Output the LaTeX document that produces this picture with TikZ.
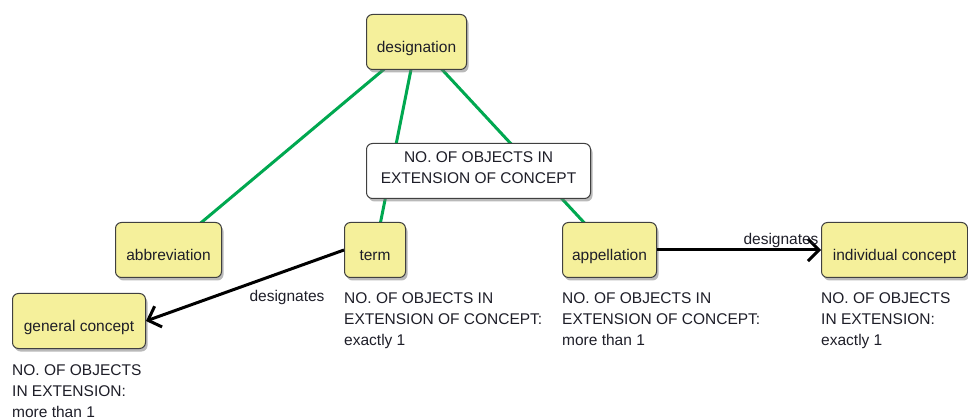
\documentclass[tikz,border=0pt]{standalone}
\usepackage{fontspec}
\setmainfont{Liberation Sans}
\usetikzlibrary{shadows,arrows.meta,backgrounds}
\definecolor{conceptfill}{RGB}{245,240,155}
\definecolor{linkgreen}{RGB}{0,168,80}
\definecolor{txt}{RGB}{30,30,40}
\tikzset{
  concept/.style={draw=black!75, line width=1pt, rounded corners=6pt, fill=conceptfill,
    inner sep=0pt, text height=38pt, text depth=17pt, anchor=north west,
    drop shadow={shadow xshift=2pt, shadow yshift=-3pt, fill=black!55}},
  linkbox/.style={draw=black!75, line width=1pt, rounded corners=6pt, fill=white,
    inner sep=0pt, anchor=north west, align=center,
    drop shadow={shadow xshift=2pt, shadow yshift=-3pt, fill=black!55}},
  greenline/.style={draw=linkgreen, line width=3pt},
  arrowline/.style={draw=black, line width=3pt, -{Straight Barb[length=11pt,width=22pt,line width=3pt]}},
  note/.style={inner sep=0pt, anchor=north west, align=left, text=txt},
  lbl/.style={inner sep=0pt, text=txt}
}
\begin{document}
\begin{tikzpicture}[x=1pt,y=-1pt, font=\fontsize{15.5}{21}\selectfont, text=txt]
\useasboundingbox (0,0) rectangle (968,419);
% concepts
\node[concept, minimum width=100pt] (designation) at (366,14) {designation};
\node[concept, minimum width=106pt] (abbreviation) at (115,222) {abbreviation};
\node[concept, minimum width=61pt] (term) at (344,222) {term};
\node[concept, minimum width=94pt] (appellation) at (562,222) {appellation};
\node[concept, minimum width=146pt] (individual) at (821,222) {individual concept};
\node[concept, minimum width=133pt] (general) at (12,293) {general concept};
% green connections (behind)
\begin{scope}[on background layer]
\draw[greenline] (designation.center) -- (abbreviation.center);
\draw[greenline] (designation.center) -- (term.center);
\draw[greenline] (designation.center) -- (appellation.center);
\end{scope}
% linking phrase box
\node[linkbox, minimum width=224pt, minimum height=55pt, text depth=6pt] (link) at (366,143)
  {NO. OF OBJECTS IN\\EXTENSION OF CONCEPT};
% designates arrows
\draw[arrowline] (term.west) -- (general.east);
\node[lbl] (d1) at (287,297) {designates};
\draw[arrowline] (appellation.east) -- (individual.west);
\node[lbl] (d2) at (781,240) {designates};
% notes
\node[note] (n1) at (344,292) {NO. OF OBJECTS IN\\EXTENSION OF CONCEPT:\\exactly 1};
\node[note] (n2) at (562,292) {NO. OF OBJECTS IN\\EXTENSION OF CONCEPT:\\more than 1};
\node[note] (n3) at (821,292) {NO. OF OBJECTS\\IN EXTENSION:\\exactly 1};
\node[note] (n4) at (12,364) {NO. OF OBJECTS\\IN EXTENSION:\\more than 1};
\end{tikzpicture}
\end{document}
